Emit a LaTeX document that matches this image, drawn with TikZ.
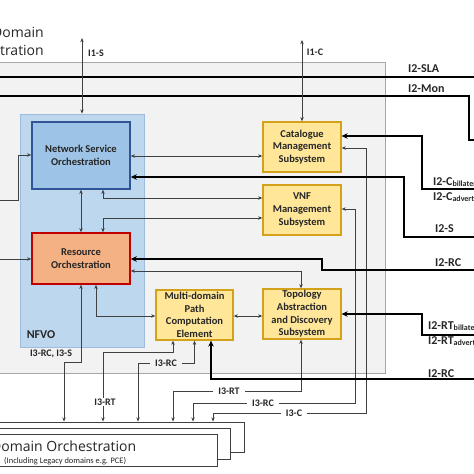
\documentclass[tikz,border=0pt]{standalone}
\usepackage{fontspec}
\setmainfont{Carlito}
\newfontfamily\segoe{Open Sans}
\usetikzlibrary{arrows.meta}
\definecolor{graybg}{HTML}{F2F2F2}
\definecolor{grayb}{HTML}{A6A6A6}
\definecolor{nfvofill}{HTML}{BDD7EE}
\definecolor{nfvob}{HTML}{9DBBDD}
\definecolor{nsofill}{HTML}{9DC3E6}
\definecolor{nsob}{HTML}{2F5597}
\definecolor{rofill}{HTML}{F4B183}
\definecolor{rob}{HTML}{C00000}
\definecolor{yfill}{HTML}{FFE699}
\definecolor{yb}{HTML}{D4A21A}
\definecolor{lnc}{HTML}{404040}
\definecolor{txt}{HTML}{262626}
\begin{document}
\begin{tikzpicture}[x=1pt,y=-1pt,
  boxlab/.style={inner sep=0pt, align=center, text=txt, font=\bfseries\fontsize{10.5}{12.6}\selectfont},
  ybox/.style={boxlab, draw=yb, fill=yfill, line width=1.3pt, minimum width=78pt, minimum height=50pt},
  dombox/.style={draw=lnc, fill=white, line width=0.9pt, inner sep=0pt},
  thinln/.style={draw=lnc, line width=0.75pt},
  twoway/.style={thinln, {Stealth[length=4.2pt,width=3.4pt]}-{Stealth[length=4.2pt,width=3.4pt]}},
  oneway/.style={thinln, -{Stealth[length=4.2pt,width=3.4pt]}},
  thickln/.style={draw=black, line width=1.9pt},
  thickarr/.style={thickln, -{Stealth[length=6pt,width=5.5pt]}},
  ilab/.style={font=\bfseries\fontsize{10}{12}\selectfont, text=txt, inner ysep=1pt, inner xsep=5pt},
  rlab/.style={font=\bfseries\fontsize{12}{14}\selectfont, text=txt, inner sep=0pt, anchor=base west}
]
\useasboundingbox (0,0) rectangle (474,474);
\clip (0,0) rectangle (474,474);

% outer grey multi-domain orchestrator box
\node[draw=grayb, fill=graybg, line width=0.8pt, minimum width=405pt, minimum height=311pt, inner sep=0pt] (mdo) at (182.5,217.5) {};
\node[font=\segoe\fontsize{14}{18}\selectfont, text=txt, anchor=east, align=right, inner sep=0pt] (mdolab) at (44,41) {Multi-Domain\\Orchestration};

% thick I2-SLA and I2-Mon lines
\coordinate (w1) at (-10,77);
\coordinate (e1) at (490,77);
\coordinate (w2) at (-10,96);
\coordinate (e2) at (490,140);
\draw[thickln] (w1) -- (e1);
\draw[thickln] (w2) -- (469,96) -- (469,140) -- (e2);

% NFVO and its boxes
\node[draw=nfvob, fill=nfvofill, line width=0.8pt, minimum width=124pt, minimum height=233pt, inner sep=0pt] (nfvo) at (82,230.5) {};
\node[font=\bfseries\fontsize{12}{14}\selectfont, text=txt, inner sep=0pt] (nfvolab) at (41,335) {NFVO};
\node[boxlab, draw=nsob, fill=nsofill, line width=1.5pt, minimum width=98pt, minimum height=67pt] (nso) at (81,155.5) {Network Service\\Orchestration};
\node[boxlab, draw=rob, fill=rofill, line width=1.5pt, minimum width=98pt, minimum height=51pt] (ro) at (81,258.5) {Resource\\Orchestration};

\node[ybox] (cat) at (302,147) {Catalogue\\Management\\Subsystem};
\node[ybox] (vnf) at (302,210) {VNF\\Management\\Subsystem};
\node[ybox, minimum width=77pt] (mpce) at (194.5,315) {Multi-domain\\Path\\Computation\\Element};
\node[ybox] (tads) at (302,314) {Topology\\Abstraction\\and Discovery\\Subsystem};

% domain orchestration boxes (stacked)
\node[dombox, minimum width=264pt, minimum height=30pt] (dom3) at (112,437) {};
\node[dombox, minimum width=250pt, minimum height=31pt] (dom2) at (105,443.5) {};
\node[dombox, minimum width=237pt, minimum height=32pt] (dom1) at (98.5,450) {};
\node[font=\segoe\fontsize{14}{16}\selectfont, text=txt, anchor=west, inner sep=0pt] (domt) at (-9,446) {Domain Orchestration};
\node[font=\fontsize{8.4}{10}\selectfont, text=txt, anchor=west, inner sep=0pt] (doms) at (4,461) {(Including Legacy domains e.g. PCE)};

% I1 interfaces
\coordinate (i1s) at (82,38);
\coordinate (i1c) at (302,40);
\draw[twoway] (i1s) -- (nfvo.north);
\draw[twoway] (i1c) -- (cat.north);
\node[ilab, inner sep=0pt] (i1slab) at (96,53) {I1-S};
\node[ilab, inner sep=0pt] (i1clab) at (315,52) {I1-C};

% internal thin connectors
\draw[twoway] (nso.east |- 0,156) -- (cat.west |- 0,156);
\draw[twoway] (nso.south -| 103,0) |- (vnf.west |- 0,198);
\draw[twoway] (ro.north -| 103,0) |- (vnf.west |- 0,218);
\draw[twoway] (nso.south) -- (ro.north);
\draw[twoway] (ro.east |- 0,271) -| (tads.north -| 301,0);
\draw[twoway] (ro.south -| 96,0) |- (mpce.west |- 0,316);
\draw[twoway] (mpce.east |- 0,316) -- (tads.west |- 0,316);

% inputs from the left
\coordinate (w10) at (-10,259);
\coordinate (w11) at (-10,200);
\draw[oneway] (w10) -- (ro.west |- 0,259);
\draw[oneway] (w11) -- (18,200) |- (nso.west |- 0,155);

% I3 interfaces to domain orchestration
\draw[twoway] (cat.east |- 0,148) -| (366,413) -| (dom3.north -| 213,0);
\draw[twoway] (vnf.east |- 0,209) -| (355,403) -| (dom3.north -| 193,0);
\draw[twoway] (tads.south -| 301,0) |- (173,391) -- (dom3.north -| 173,0);
\draw[twoway] (mpce.south) |- (138,363) -- (dom3.north -| 138,0);
\draw[twoway] (mpce.south -| 173,0) |- (103,352) -- (dom3.north -| 103,0);
\draw[twoway] (ro.south) |- (64,362) -- (dom3.north -| 64,0);

\node[ilab, inner sep=0pt] (l3rcs) at (51,354) {I3-RC, I3-S};
\node[ilab, fill=white] (l3rt1) at (105,402) {I3-RT};
\node[ilab, fill=graybg] (l3rc1) at (166,363) {I3-RC};
\node[ilab, fill=white] (l3rt2) at (229,391) {I3-RT};
\node[ilab, fill=white] (l3rc2) at (263,403) {I3-RC};
\node[ilab, fill=white] (l3c) at (294,413) {I3-C};

% thick I2 interfaces
\coordinate (e3) at (490,189);
\coordinate (e4) at (490,237);
\coordinate (e5) at (490,270);
\coordinate (e6) at (490,335);
\coordinate (e7) at (490,379);
\draw[thickarr] (e3) -- (422,189) -- (422,136) -- (cat.east |- 0,136);
\draw[thickarr] (e4) -- (404,237) -- (404,177) -- (nso.east |- 0,177);
\draw[thickarr] (e5) -- (322,270) -- (322,259) -- (ro.east |- 0,259);
\draw[thickarr] (e6) -- (422,335) -- (422,314) -- (tads.east |- 0,314);
\draw[thickarr] (e7) -- (211,379) -- (mpce.south -| 211,0);

% right labels
\node[rlab] (lsla) at (408,72) {I2-SLA};
\node[rlab] (lmon) at (408,92) {I2-Mon};
\node[rlab] (lcb) at (433,185) {I2-C\textsubscript{billateral}};
\node[rlab] (lca) at (433,200) {I2-C\textsubscript{advertised}};
\node[rlab] (ls) at (435,232) {I2-S};
\node[rlab] (lrc1) at (435,266) {I2-RC};
\node[rlab] (lrtb) at (428,329) {I2-RT\textsubscript{billateral}};
\node[rlab] (lrta) at (428,344) {I2-RT\textsubscript{advertised}};
\node[rlab] (lrc2) at (428,377) {I2-RC};
\end{tikzpicture}
\end{document}
